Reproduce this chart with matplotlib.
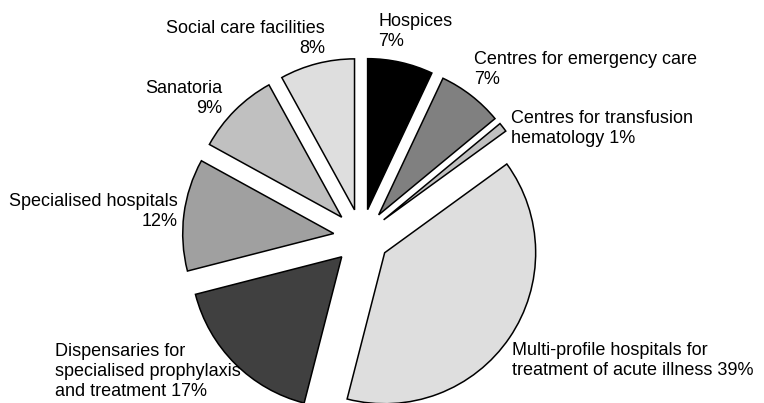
import matplotlib.pyplot as plt

# slice data, clockwise from 12 o'clock
labels = [
    'Hospices\n7%',
    'Centres for emergency care\n7%',
    'Centres for transfusion\nhematology 1%',
    'Multi-profile hospitals for\ntreatment of acute illness 39%',
    'Dispensaries for\nspecialised prophylaxis\nand treatment 17%',
    'Specialised hospitals\n12%',
    'Sanatoria\n9%',
    'Social care facilities\n8%',
]
shares = [7, 7, 1, 39, 17, 12, 9, 8]
colors = ['#000000', '#808080', '#c0c0c0', '#dedede',
          '#404040', '#a0a0a0', '#c0c0c0', '#dedede']

# label anchors in pixels (x, y from top), alignment
label_pos = [
    (378, 13, 'left'),
    (474, 51, 'left'),
    (511, 110, 'left'),
    (512, 342, 'left'),
    (55, 343, 'left'),
    (178, 193, 'right'),
    (222, 80, 'right'),
    (325, 20, 'right'),
]

W, H = 764, 403
plt.rcParams['font.family'] = ['Liberation Sans', 'DejaVu Sans']

fig = plt.figure(figsize=(W / 100, H / 100), dpi=100)
ax = fig.add_axes([0, 0, 1, 1])

ax.pie(shares, colors=colors, startangle=90, counterclock=False,
       center=(361.5, H - 237), radius=151, explode=[28] * len(shares),
       wedgeprops=dict(edgecolor='black', linewidth=1.1), frame=True)
ax.set_xlim(0, W)
ax.set_ylim(0, H)
ax.set_aspect('equal')
ax.axis('off')

for text, (px, py, ha) in zip(labels, label_pos):
    ax.text(px, H - py, text, ha=ha, va='top', multialignment=ha,
            fontsize=13, linespacing=1.25, color='black')

fig.savefig('out.png', dpi=100)
